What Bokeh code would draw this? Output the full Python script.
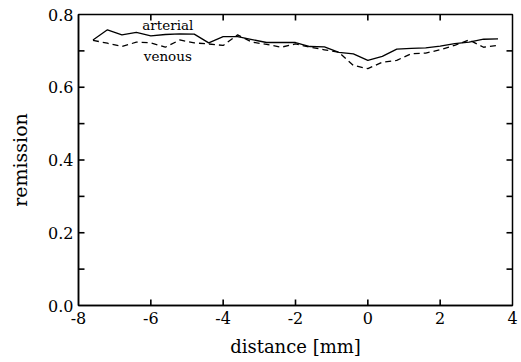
from bokeh.plotting import figure
from bokeh.models import FixedTicker, Range1d, Label
from bokeh.embed import file_html
from bokeh.resources import INLINE

distance = [-7.6, -7.2, -6.8, -6.4, -6.0, -5.6, -5.2, -4.8, -4.4, -4.0, -3.6, -3.2, -2.8, -2.4,
            -2.0, -1.6, -1.2, -0.8, -0.4, 0.0, 0.4, 0.8, 1.2, 1.6, 2.0, 2.4, 2.8, 3.2, 3.6]
arterial = [0.730, 0.758, 0.744, 0.751, 0.741, 0.745, 0.747, 0.746, 0.722, 0.739, 0.739, 0.731,
            0.723, 0.723, 0.723, 0.712, 0.711, 0.696, 0.692, 0.674, 0.685, 0.705, 0.707, 0.708,
            0.713, 0.720, 0.724, 0.732, 0.733]
venous = [0.729, 0.721, 0.712, 0.724, 0.722, 0.710, 0.730, 0.722, 0.719, 0.715, 0.744, 0.724,
          0.718, 0.710, 0.719, 0.710, 0.703, 0.696, 0.660, 0.651, 0.669, 0.674, 0.692, 0.694,
          0.703, 0.715, 0.730, 0.710, 0.715]

x_ticks = [-8, -6, -4, -2, 0, 2, 4]
y_ticks = [0.0, 0.2, 0.4, 0.6, 0.8]
y_minor = [0.1, 0.3, 0.5, 0.7]

X0, X1, Y0, Y1 = -8, 4, 0.0, 0.8
FW, FH = 434, 291
TICK_PX = 6
FONT = "DejaVu Serif"

p = figure(frame_width=FW, frame_height=FH, output_backend="svg", toolbar_location=None,
           x_range=Range1d(X0, X1), y_range=Range1d(Y0, Y1),
           min_border_left=78, min_border_right=8, min_border_top=14, min_border_bottom=56)
p.xgrid.visible = False
p.ygrid.visible = False
p.outline_line_color = "black"
p.outline_line_width = 1.5
p.background_fill_color = "white"
p.border_fill_color = "white"

p.line(distance, arterial, line_color="black", line_width=1.3)
p.line(distance, venous, line_color="black", line_width=1.3, line_dash="6 4")

# inward tick marks on all four sides
dy = TICK_PX * (Y1 - Y0) / FH
dx = TICK_PX * (X1 - X0) / FW
inner_x = x_ticks[1:-1]
all_y = sorted(y_ticks[1:-1] + y_minor)
tick_x0 = inner_x + inner_x + [X0] * len(all_y) + [X1] * len(all_y)
tick_x1 = inner_x + inner_x + [X0 + dx] * len(all_y) + [X1 - dx] * len(all_y)
tick_y0 = [Y0] * len(inner_x) + [Y1] * len(inner_x) + all_y + all_y
tick_y1 = [Y0 + dy] * len(inner_x) + [Y1 - dy] * len(inner_x) + all_y + all_y
p.segment(x0=tick_x0, y0=tick_y0, x1=tick_x1, y1=tick_y1,
          line_color="black", line_width=1.6, level="overlay")

p.add_layout(Label(x=-5.53, y=0.771, text="arterial", text_font=FONT, text_font_size="13.5px",
                   text_align="center", text_baseline="middle", text_color="black"))
p.add_layout(Label(x=-5.53, y=0.685, text="venous", text_font=FONT, text_font_size="13.5px",
                   text_align="center", text_baseline="middle", text_color="black"))

def style(ax, label_size):
    ax.axis_line_color = "black"
    ax.axis_line_width = 1.5
    ax.major_tick_in = 0
    ax.major_tick_out = 0
    ax.minor_tick_in = 0
    ax.minor_tick_out = 0
    ax.major_label_text_font = FONT
    ax.major_label_text_font_size = "16px"
    ax.major_label_text_color = "black"
    ax.axis_label_text_font = FONT
    ax.axis_label_text_font_size = label_size
    ax.axis_label_text_font_style = "normal"
    ax.axis_label_text_color = "black"

p.xaxis.ticker = FixedTicker(ticks=x_ticks)
p.xaxis.major_label_overrides = {t: str(t) for t in x_ticks}
p.xaxis.axis_label = "distance [mm]"
p.xaxis.major_label_standoff = 6
p.xaxis.axis_label_standoff = 9
style(p.xaxis[0], "18px")

p.yaxis.ticker = FixedTicker(ticks=y_ticks, minor_ticks=y_minor)
p.yaxis.major_label_overrides = {t: "%.1f" % t for t in y_ticks}
p.yaxis.axis_label = "remission"
p.yaxis.major_label_standoff = 5
p.yaxis.axis_label_standoff = 14
style(p.yaxis[0], "19px")

open("out.html", "w").write(file_html(p, INLINE))
